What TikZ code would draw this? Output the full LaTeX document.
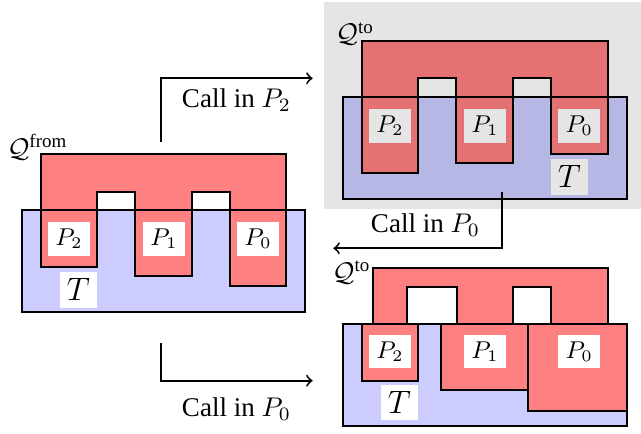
\documentclass[tikz,border=0pt]{standalone}
\usepackage{fontspec}
\setmainfont{Liberation Serif}
\definecolor{qred}{RGB}{255,128,128}
\definecolor{tblue}{RGB}{204,204,255}
\tikzset{
  qshape/.style={fill=qred, draw=black, line width=0.8pt},
  tarea/.style={fill=tblue},
  tedge/.style={draw=black, line width=0.8pt},
  plabel/.style={fill=white, inner sep=0pt, minimum width=15.5pt, minimum height=12.3pt, font=\small},
  tlabel/.style={fill=white, inner sep=0pt, minimum width=13.7pt, minimum height=13.3pt, font=\large},
  qname/.style={inner sep=0pt},
  callarrow/.style={draw=black, line width=0.7pt, ->},
  calltext/.style={inner sep=1pt},
  dimmed/.style={fill=black, opacity=0.1}
}
\begin{document}
\begin{tikzpicture}[x=0.37pt,y=-0.37pt]
\useasboundingbox (0,0) rectangle (641,433);

% ---------- initial state (left) ----------
\fill[tarea] (21.7,210) rectangle (305,312.3);
\path[qshape] (40.7,154) -- (286,154) -- (286,285.7) -- (229.7,285.7) -- (229.7,192)
  -- (192.3,192) -- (192.3,276) -- (135,276) -- (135,192) -- (97,192) -- (97,266.7)
  -- (40.7,266.7) -- cycle;
\draw[tedge] (21.7,210) rectangle (305,312.3);
\node[plabel] (a2) at (69,239) {$P_2$};
\node[plabel] (a1) at (164,239) {$P_1$};
\node[plabel] (a0) at (258,239) {$P_0$};
\node[tlabel] (aT) at (78.3,289.7) {$T$};
\node[qname] (aQ) at (37.5,147) {$\mathcal{Q}^{\mathrm{from}}$};

% ---------- after a call in P_2 (top right) ----------
\fill[tarea] (342.7,96.7) rectangle (626.7,199.3);
\path[qshape] (361.7,40.7) -- (607.7,40.7) -- (607.7,154) -- (551,154) -- (551,78.3)
  -- (513.3,78.3) -- (513.3,163.3) -- (456,163.3) -- (456,78.3) -- (418.3,78.3)
  -- (418.3,172.7) -- (361.7,172.7) -- cycle;
\draw[tedge] (342.7,96.7) rectangle (626.7,199.3);
\node[plabel] (b2) at (390,126) {$P_2$};
\node[plabel] (b1) at (485,126) {$P_1$};
\node[plabel] (b0) at (579.2,126) {$P_0$};
\node[tlabel] (bT) at (569.3,176.8) {$T$};
\node[qname] (bQ) at (355,34) {$\mathcal{Q}^{\mathrm{to}}$};
\fill[dimmed] (324,2) rectangle (641,209);

% ---------- after a call in P_0 (bottom right) ----------
\fill[tarea] (342.7,324) rectangle (626.7,426);
\path[qshape] (373.3,267.7) -- (607.7,267.7) -- (607.7,324) -- (551,324) -- (551,286.7)
  -- (513.3,286.7) -- (513.3,324) -- (456.7,324) -- (456.7,286.7) -- (407.3,286.7)
  -- (407.3,324) -- (373.3,324) -- cycle;
\path[qshape] (361.7,324) rectangle (418.3,381);
\path[qshape] (441,324) rectangle (528.3,390);
\path[qshape] (528.3,324) rectangle (626.7,410.7);
\draw[tedge] (342.7,324) rectangle (626.7,426);
\node[plabel] (c2) at (390,351.7) {$P_2$};
\node[plabel] (c1) at (485,351.7) {$P_1$};
\node[plabel] (c0) at (579.2,351.7) {$P_0$};
\node[tlabel] (cT) at (399.3,402.5) {$T$};
\node[qname] (cQ) at (351.5,272.5) {$\mathcal{Q}^{\mathrm{to}}$};

% ---------- transitions ----------
\coordinate (s1) at (161,141.7);
\coordinate (e1) at (312.7,78.3);
\draw[callarrow] (s1) |- (e1);
\node[calltext] (t1) at (236.5,100) {Call in $P_2$};

\coordinate (s2) at (161,343.3);
\coordinate (e2) at (312.7,380.7);
\draw[callarrow] (s2) |- (e2);
\node[calltext] (t2) at (236.5,409) {Call in $P_0$};

\coordinate (s3) at (502,192);
\coordinate (e3) at (333.3,248.3);
\draw[callarrow] (s3) |- (e3);
\node[calltext] (t3) at (425.5,225) {Call in $P_0$};
\end{tikzpicture}
\end{document}
